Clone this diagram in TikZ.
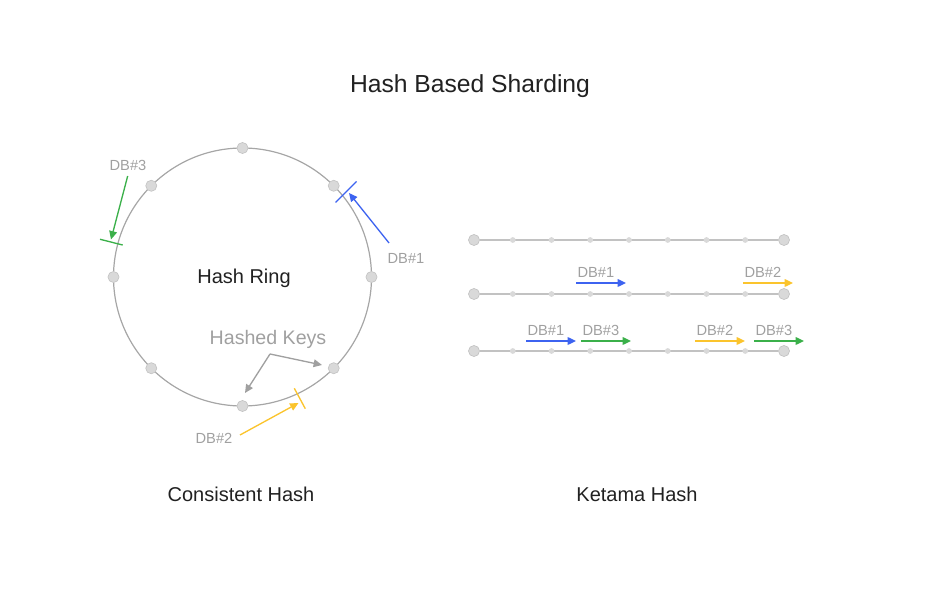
\documentclass[tikz,border=0pt]{standalone}
\usepackage{fontspec}
\setmainfont{Liberation Sans}
\usetikzlibrary{arrows.meta,positioning,backgrounds}
\definecolor{txtblack}{HTML}{212121}
\definecolor{txtgray}{HTML}{A0A0A0}
\definecolor{ringgray}{HTML}{A6A6A6}
\definecolor{dotfill}{HTML}{D9D9D9}
\definecolor{dotline}{HTML}{C4C4C4}
\definecolor{linegray}{HTML}{C2C2C2}
\definecolor{dbblue}{HTML}{3D63F0}
\definecolor{dbgreen}{HTML}{3BB04A}
\definecolor{dbyellow}{HTML}{FBC42D}
\tikzset{
  ringdot/.style={circle, fill=dotfill, draw=dotline, line width=0.5pt, inner sep=0pt, minimum size=8.3pt},
  smalldot/.style={circle, fill=dotfill, inner sep=0pt, minimum size=4.3pt},
  dblabel/.style={text=txtgray, font=\fontsize{11}{13}\selectfont, inner sep=1pt},
  dbarrow/.style={line width=1pt, -{Triangle[length=6.3pt,width=5.8pt]}},
  tickline/.style={line width=1pt},
  bigtext/.style={text=txtblack, font=\fontsize{15}{18}\selectfont},
}
\begin{document}
\begin{tikzpicture}[x=0.75pt,y=-0.75pt]
\useasboundingbox (0,0) rectangle (950,602);

\node[text=txtblack, font=\fontsize{18.5}{22}\selectfont] (title) at (470,86) {Hash Based Sharding};

% consistent hash ring
\coordinate (ring) at (242.5,277);
\draw[ringgray, line width=0.9pt] (ring) circle (96.75pt);
\foreach \a [count=\i] in {90,45,0,-45,-90,-135,180,135}
  \node[ringdot] (r\i) at ([shift={(\a:96.75pt)}]ring) {};

\node[bigtext] (hashring) at (244,278) {Hash Ring};
\node[text=txtgray, font=\fontsize{14.7}{18}\selectfont] (hashed) at (268,339) {Hashed Keys};
\coordinate (hk) at (270,354);
\coordinate (hk1) at (245,393);
\coordinate (hk2) at (322,365);
\draw[txtgray, dbarrow] (hk) -- (hk1);
\draw[txtgray, dbarrow] (hk) -- (hk2);

% DB#1
\draw[dbblue, tickline] (335.5,202.5) -- (356.5,181.5);
\node[dblabel] (db1) at (406,258) {DB\#1};
\coordinate (db1s) at (389,243);
\coordinate (db1t) at (349,193);
\draw[dbblue, dbarrow] (db1s) -- (db1t);

% DB#3
\draw[dbgreen, tickline] (100,239.3) -- (122.7,245);
\node[dblabel] (db3) at (128,165) {DB\#3};
\coordinate (db3s) at (127.7,176);
\coordinate (db3t) at (111,239.5);
\draw[dbgreen, dbarrow] (db3s) -- (db3t);

% DB#2
\draw[dbyellow, tickline] (294.3,388.3) -- (305.3,408.7);
\node[dblabel] (db2) at (214,438) {DB\#2};
\coordinate (db2s) at (240,435);
\coordinate (db2t) at (298.5,403);
\draw[dbyellow, dbarrow] (db2s) -- (db2t);

\node[bigtext] (consistent) at (241,494) {Consistent Hash};

% ketama lines
\foreach \row/\y in {1/240,2/294,3/351} {
  \node[ringdot] (k\row-0) at (474,\y) {};
  \node[ringdot] (k\row-8) at (784,\y) {};
  \foreach \k in {1,...,7}
    \node[smalldot] (k\row-\k) at (474+38.75*\k,\y) {};
  \begin{scope}[on background layer]
    \draw[linegray, line width=1.5pt] (k\row-0) -- (k\row-8);
  \end{scope}
}

\foreach \x/\y/\c/\n [count=\i] in {576/279/dbblue/1, 743/279/dbyellow/2, 526/337/dbblue/1, 581/337/dbgreen/3, 695/337/dbyellow/2, 754/337/dbgreen/3} {
  \node[dblabel, anchor=south west] (kl\i) at (\x,\y) {DB\#\n};
  \draw[dbarrow, \c] ([yshift=-3pt]kl\i.south west) -- ++(50,0);
}

\node[bigtext] (ketama) at (637,494) {Ketama Hash};
\end{tikzpicture}
\end{document}
